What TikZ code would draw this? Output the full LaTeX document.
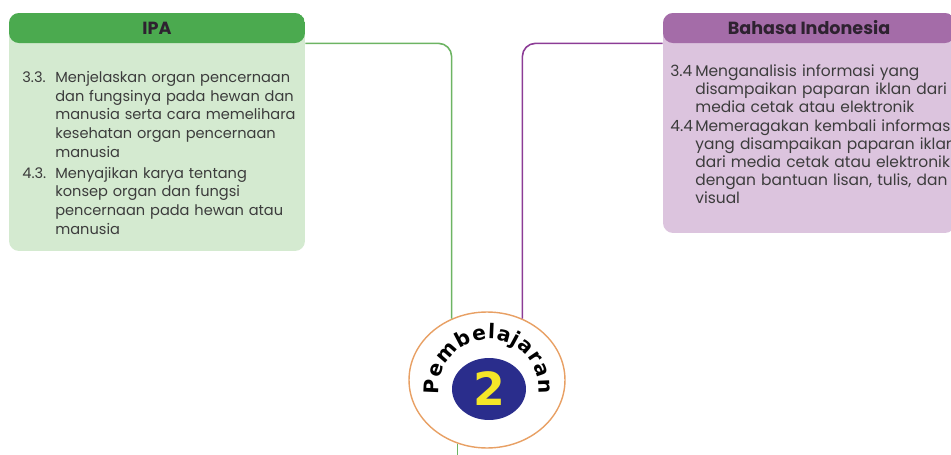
\documentclass[tikz,border=0pt]{standalone}
\usepackage{fontspec}
\setmainfont{Poppins}
\newfontfamily\medalfont{DejaVu Sans}
\usetikzlibrary{positioning,calc,shapes.geometric,decorations.text}

\definecolor{ipagreen}{HTML}{4BAA4F}
\definecolor{ipalight}{HTML}{D4EAD0}
\definecolor{ipaline}{HTML}{6DB463}
\definecolor{bipurple}{HTML}{A46CA8}
\definecolor{bilight}{HTML}{DCC4DE}
\definecolor{biline}{HTML}{8C3C96}
\definecolor{medalorange}{HTML}{E8A064}
\definecolor{medalnavy}{HTML}{2A2D8C}
\definecolor{medalyellow}{HTML}{F5E628}
\definecolor{headtext}{HTML}{2E2230}
\definecolor{bodytext}{HTML}{3C3C3C}

% kompetensi dasar: nomor + teks dengan indentasi gantung
\newlength{\kdind}
\newcommand{\kd}[2]{\par\hangindent=\kdind\hangafter=1\noindent\makebox[\kdind][l]{#1}#2\par}

\tikzset{
	>=latex,
	kdbox/.style 2 args={rectangle, rounded corners=0.2cm, inner sep=0pt,
		fill=#1, path picture={\fill[#2] (path picture bounding box.north west)
			rectangle ([yshift=-0.6cm]path picture bounding box.north east);}},
	kdhead/.style={rectangle, inner sep=0pt, minimum height=0.6cm,
		font=\bfseries\fontsize{10}{10}\selectfont, text=headtext},
	kdtext/.style={anchor=north west, inner sep=0pt, text width=7cm, align=left,
		text=bodytext},
	link/.style={line width=0.9pt, rounded corners=0.26cm},
	medal/.style={ellipse, draw=medalorange, line width=0.8pt, fill=white,
		minimum width=3.12cm, minimum height=2.72cm, inner sep=0pt},
	numdisc/.style={ellipse, fill=medalnavy, minimum width=1.48cm, minimum height=1.24cm,
		inner sep=0pt, text=medalyellow, font=\medalfont\bfseries\fontsize{26}{26}\selectfont}
}

\begin{document}
\begin{tikzpicture}[x=0.02cm,y=0.02cm]
	\clip (0,0) rectangle (951,454);
	\useasboundingbox (0,0) rectangle (951,454);
	
	% IPA
	\node[kdbox={ipalight}{ipagreen}, minimum width=5.92cm, minimum height=4.76cm] (ipa) at (157,322) {};
	\node[kdhead, minimum width=5.92cm, anchor=north] (ipahead) at (ipa.north) {IPA};
	\node[kdtext, font=\fontsize{8.3}{10.6}\selectfont,
		execute at begin node={\setlength{\kdind}{0.66cm}\setlength{\parskip}{1.5pt}}]
		(ipatext) at (22,393) {%
		\kd{3.3.}{Menjelaskan organ pencernaan\newline dan fungsinya pada hewan dan\newline manusia serta cara memelihara\newline kesehatan organ pencernaan\newline manusia}
		\kd{4.3.}{Menyajikan karya tentang\newline konsep organ dan fungsi\newline pencernaan pada hewan atau\newline manusia}};
	
	% Bahasa Indonesia
	\node[kdbox={bilight}{bipurple}, minimum width=5.84cm, minimum height=4.4cm] (bi) at (809,331) {};
	\node[kdhead, minimum width=5.84cm, anchor=north] (bihead) at (bi.north) {Bahasa Indonesia};
	\node[kdtext, font=\fontsize{8.8}{10.25}\selectfont,
		execute at begin node={\setlength{\kdind}{0.5cm}\setlength{\parskip}{0.7pt}}]
		(bitext) at (670,397) {%
		\kd{3.4}{Menganalisis informasi yang\newline disampaikan paparan iklan dari\newline media cetak atau elektronik}
		\kd{4.4}{Memeragakan kembali informasi\newline yang disampaikan paparan iklan\newline dari media cetak atau elektronik\newline dengan bantuan lisan, tulis, dan\newline visual}};
	
	% pembelajaran 2
	\node[medal] (medal) at (487,74) {};
	\node[numdisc] (num) at (489,65) {2};
	\path[decorate, decoration={text along path, text align=fit to path,
		text={|\medalfont\bfseries\fontsize{11.5}{11.5}\selectfont|Pembelajaran}}]
		($(num.center)+(186:1.0cm)$) arc[start angle=186, end angle=-6, radius=1.0cm];
	
	% penghubung
	\draw[link, ipaline] (ipahead.south east) -| (medal.120);
	\draw[link, biline] (bihead.south west) -| (medal.60);
	\draw[ipaline, line width=0.9pt] (medal.245) -- +(0,-12);
\end{tikzpicture}
\end{document}
